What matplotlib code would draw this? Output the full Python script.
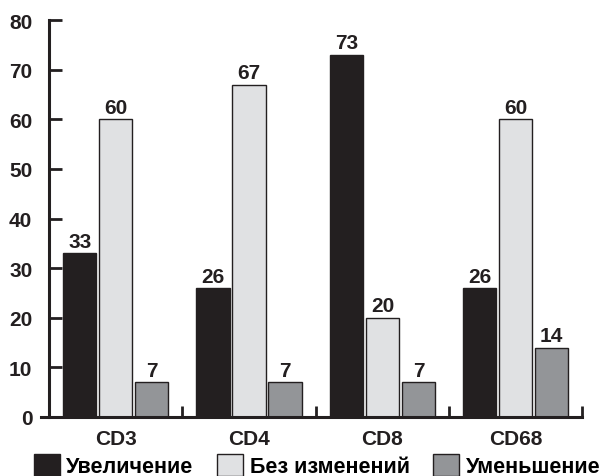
import numpy as np
import matplotlib.pyplot as plt
from matplotlib.patches import Patch

plt.rcParams['font.family'] = ['Liberation Sans', 'DejaVu Sans']
plt.rcParams['font.weight'] = 'bold'

categories = ['CD3', 'CD4', 'CD8', 'CD68']
increase = [33, 26, 73, 26]
unchanged = [60, 67, 20, 60]
decrease = [7, 7, 7, 14]
series_names = ['Увеличение', 'Без изменений', 'Уменьшение']
colors = ['#231f20', '#e0e1e3', '#939598']

fig = plt.figure(figsize=(6.16, 4.77), dpi=100)
ax = fig.add_axes([0.0795, 0.1237, 0.866, 0.832])

x = np.arange(len(categories))
width = 0.25
step = 0.27
for i, (vals, col) in enumerate(zip([increase, unchanged, decrease], colors)):
    bars = ax.bar(x + (i - 1) * step, vals, width, color=col,
                  edgecolor='#231f20', linewidth=1.0)
    for b, v in zip(bars, vals):
        ax.text(b.get_x() + b.get_width() / 2, v + 0.5, str(v),
                ha='center', va='bottom', fontsize=15, fontweight='bold',
                color='#231f20')

ax.set_xlim(-0.5, 3.5)
ax.set_ylim(0, 80)
ax.set_yticks(range(0, 81, 10))
ax.tick_params(axis='y', direction='in', length=9, width=2,
               labelsize=15, pad=12, colors='#231f20')
ax.set_xticks(x)
ax.set_xticklabels(categories)
ax.tick_params(axis='x', length=0, labelsize=15, pad=9, colors='#231f20')
ax.set_xticks(np.arange(0.5, 4, 1), minor=True)
ax.tick_params(axis='x', which='minor', direction='in', length=8, width=2,
               color='#231f20')

for s in ['top', 'right']:
    ax.spines[s].set_visible(False)
for s in ['left', 'bottom']:
    ax.spines[s].set_linewidth(2.2)
    ax.spines[s].set_color('#231f20')
# base line runs a little past the y axis on the left
ax.spines['bottom'].set_bounds(-0.56, 3.5)

handles = [Patch(facecolor=c, edgecolor='#231f20', linewidth=1.0) for c in colors]
fig.legend(handles, series_names, loc='center', ncol=3,
           bbox_to_anchor=(0.515, 0.022), frameon=False, fontsize=15.5,
           handlelength=1.2, handleheight=1.2, handletextpad=0.3,
           columnspacing=1.1, borderpad=0)

fig.savefig('out.png', dpi=100)
